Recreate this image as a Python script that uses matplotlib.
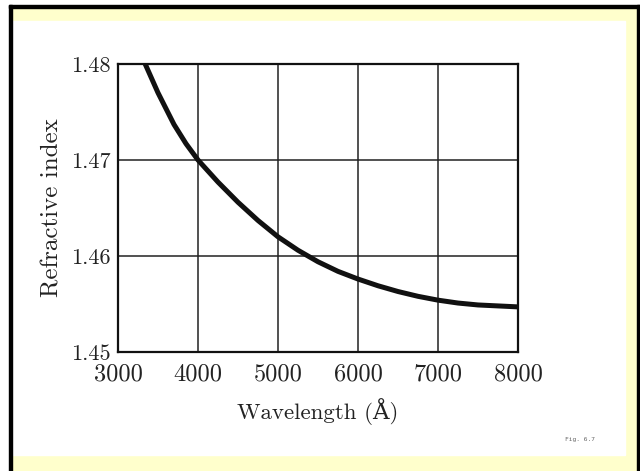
import matplotlib.pyplot as plt
from matplotlib.patches import Rectangle

# values
wavelength = [3340, 3500, 3700, 3850, 4000, 4250, 4500, 4750, 5000, 5250, 5500,
              5750, 6000, 6250, 6500, 6750, 7000, 7250, 7500, 7750, 8000]
refr_index = [1.4800, 1.4770, 1.4737, 1.4717, 1.4700, 1.4677, 1.4656, 1.4637, 1.4620,
              1.4606, 1.4594, 1.4584, 1.4576, 1.4569, 1.4563, 1.4558, 1.4554, 1.4551,
              1.4549, 1.4548, 1.4547]
x_ticks = [3000, 4000, 5000, 6000, 7000, 8000]
y_ticks = [1.45, 1.46, 1.47, 1.48]

plt.rcParams['font.family'] = ['cmr10', 'DejaVu Serif']
plt.rcParams['axes.formatter.use_mathtext'] = True

W, H = 640, 471
fig = plt.figure(figsize=(6.4, 4.71), dpi=100, facecolor='white')

# slide-like frame: yellow band, white page, black edges
def px_rect(x0, y0, x1, y1, color):
    fig.patches.append(Rectangle((x0 / W, 1 - y1 / H), (x1 - x0) / W, (y1 - y0) / H,
                                 transform=fig.transFigure, color=color, zorder=-10))

px_rect(12, 8, 637, 471, '#ffffcc')
px_rect(12, 21, 625, 455, 'white')
px_rect(9, 5, 12, 471, 'black')
px_rect(9, 5, 640, 8, 'black')
px_rect(637, 5, 640, 471, 'black')

ax = fig.add_axes([118 / W, 1 - 352 / H, 400 / W, 288 / H])
ax.set_facecolor('white')

ax.plot(wavelength, refr_index, color='#111111', lw=3.6, solid_capstyle='butt',
        solid_joinstyle='round', zorder=3)

ax.set_xlim(3000, 8000)
ax.set_ylim(1.45, 1.48)
ax.set_xticks(x_ticks)
ax.set_yticks(y_ticks)
ax.set_xticklabels([str(v) for v in x_ticks])
ax.set_yticklabels(['%.2f' % v for v in y_ticks])
ax.tick_params(length=0, colors='#222222')
ax.tick_params(axis='x', labelsize=17.5, pad=8)
ax.tick_params(axis='y', labelsize=16, pad=5)
ax.grid(True, color='#222222', lw=1.1)
for s in ax.spines.values():
    s.set_linewidth(1.6)
    s.set_color('#111111')

ax.set_xlabel('Wavelength (Å)', fontsize=16.5, color='#222222', labelpad=9)
ax.set_ylabel('Refractive index', fontsize=18, color='#222222', labelpad=6)

fig.text(565 / W, 1 - 440 / H, 'Fig. 6.7', fontsize=4.5, family='DejaVu Sans Mono',
         color='#666666', va='center')

fig.savefig('out.png', dpi=100, facecolor=fig.get_facecolor())
